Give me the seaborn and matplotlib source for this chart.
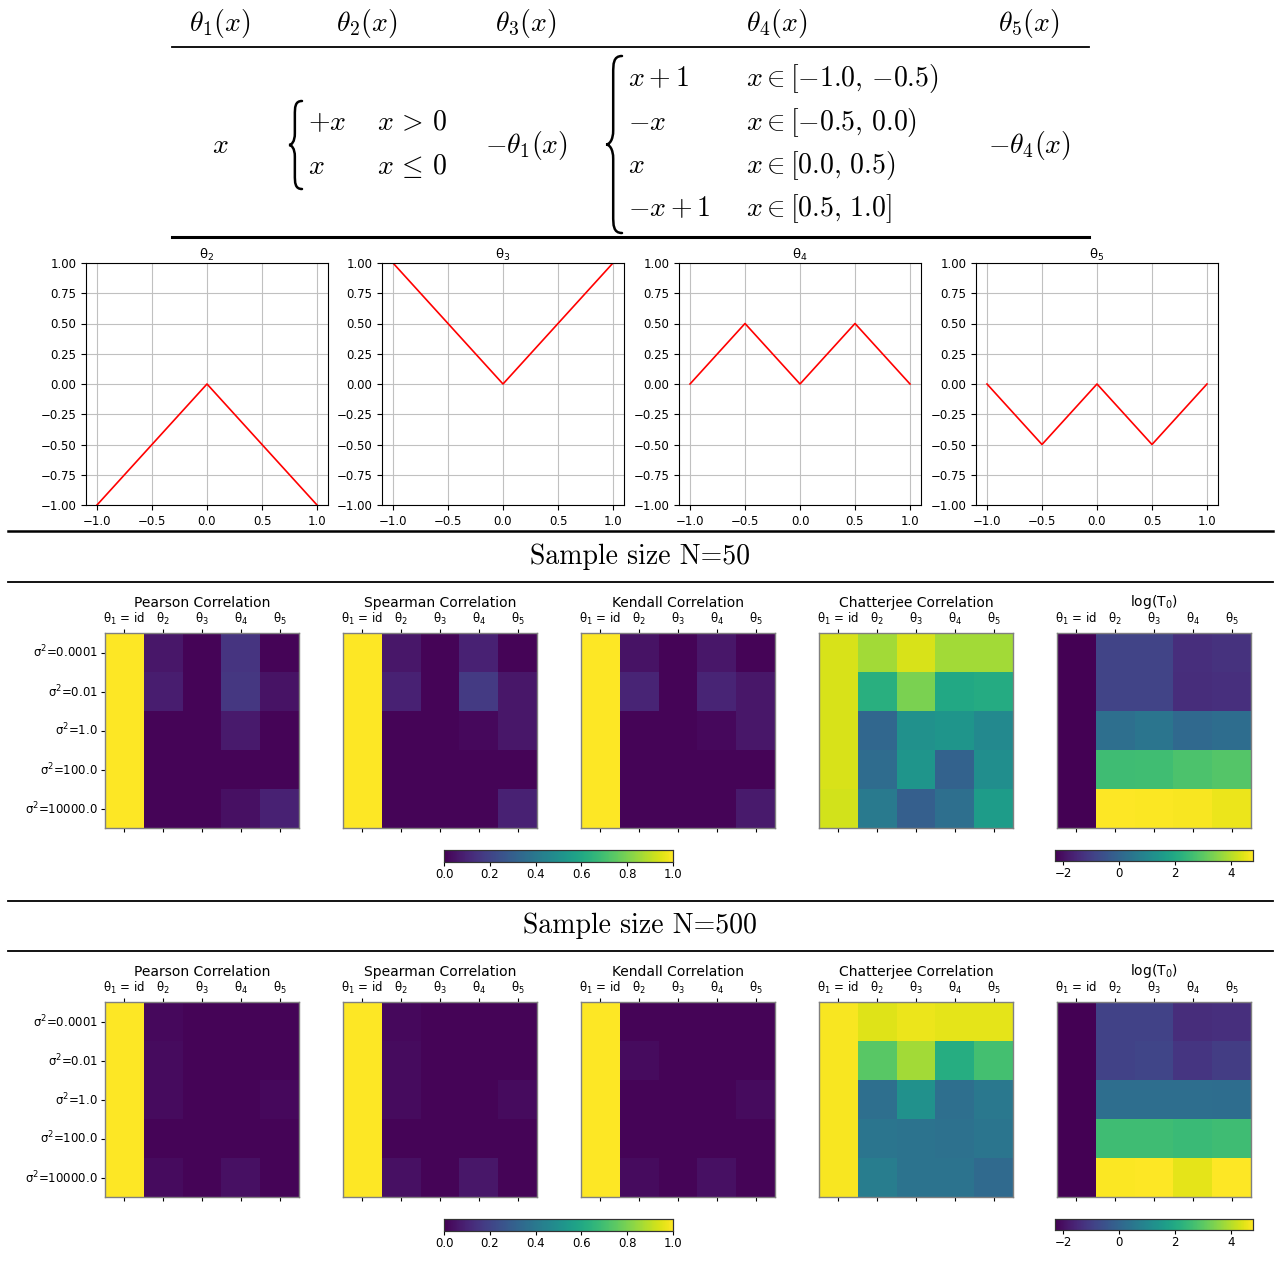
import matplotlib
matplotlib.use("Agg")
import matplotlib.pyplot as plt
import numpy as np
import pandas as pd
import seaborn as sns
from matplotlib.path import Path
from matplotlib.patches import PathPatch

W, H = 1281, 1268

# test functions sampled at their kinks
x_grid = [-1.0, -0.5, 0.0, 0.5, 1.0]
theta2_vals = [-1.0, -0.5, 0.0, -0.5, -1.0]
theta3_vals = [1.0, 0.5, 0.0, 0.5, 1.0]
theta4_vals = [0.0, 0.5, 0.0, 0.5, 0.0]
theta5_vals = [0.0, -0.5, 0.0, -0.5, 0.0]
line_titles = ["θ$_2$", "θ$_3$", "θ$_4$", "θ$_5$"]

func_labels = ["θ$_1$ = id", "θ$_2$", "θ$_3$", "θ$_4$", "θ$_5$"]
sigma_labels = ["σ$^2$=0.0001", "σ$^2$=0.01", "σ$^2$=1.0",
                "σ$^2$=100.0", "σ$^2$=10000.0"]
panel_titles = ["Pearson Correlation", "Spearman Correlation", "Kendall Correlation",
                "Chatterjee Correlation", "log(T$_0$)"]

# N = 50 (rows: sigma^2, cols: theta_1..theta_5)
pearson_50 = [[1.0, 0.06, 0.01, 0.15, 0.01],
              [1.0, 0.08, 0.01, 0.16, 0.05],
              [1.0, 0.01, 0.01, 0.07, 0.01],
              [1.0, 0.01, 0.01, 0.01, 0.01],
              [1.0, 0.01, 0.01, 0.04, 0.09]]
spearman_50 = [[1.0, 0.06, 0.01, 0.09, 0.01],
               [1.0, 0.09, 0.01, 0.17, 0.06],
               [1.0, 0.01, 0.01, 0.02, 0.06],
               [1.0, 0.01, 0.01, 0.01, 0.01],
               [1.0, 0.01, 0.01, 0.01, 0.09]]
kendall_50 = [[1.0, 0.05, 0.01, 0.06, 0.01],
              [1.0, 0.10, 0.01, 0.10, 0.06],
              [1.0, 0.01, 0.01, 0.02, 0.06],
              [1.0, 0.01, 0.01, 0.01, 0.01],
              [1.0, 0.01, 0.01, 0.01, 0.07]]
chatterjee_50 = [[0.94, 0.86, 0.94, 0.86, 0.86],
                 [0.94, 0.63, 0.80, 0.60, 0.61],
                 [0.94, 0.33, 0.50, 0.52, 0.47],
                 [0.94, 0.35, 0.52, 0.31, 0.49],
                 [0.93, 0.41, 0.30, 0.36, 0.55]]
logt0_50 = [[-2.3, -0.88, -0.88, -1.37, -1.30],
            [-2.3, -0.88, -0.88, -1.40, -1.35],
            [-2.3, 0.26, 0.45, 0.10, 0.20],
            [-2.3, 2.60, 2.62, 2.78, 2.90],
            [-2.3, 4.80, 4.75, 4.72, 4.60]]

# N = 500
pearson_500 = [[1.0, 0.02, 0.01, 0.01, 0.01],
               [1.0, 0.03, 0.01, 0.01, 0.01],
               [1.0, 0.03, 0.01, 0.01, 0.02],
               [1.0, 0.01, 0.01, 0.01, 0.01],
               [1.0, 0.03, 0.01, 0.04, 0.01]]
spearman_500 = [[1.0, 0.02, 0.01, 0.01, 0.01],
                [1.0, 0.03, 0.01, 0.01, 0.01],
                [1.0, 0.03, 0.01, 0.01, 0.03],
                [1.0, 0.01, 0.01, 0.01, 0.01],
                [1.0, 0.04, 0.01, 0.06, 0.01]]
kendall_500 = [[1.0, 0.01, 0.01, 0.01, 0.01],
               [1.0, 0.03, 0.01, 0.01, 0.01],
               [1.0, 0.01, 0.01, 0.01, 0.03],
               [1.0, 0.01, 0.01, 0.01, 0.01],
               [1.0, 0.03, 0.01, 0.04, 0.01]]
chatterjee_500 = [[0.99, 0.95, 0.97, 0.96, 0.96],
                  [0.99, 0.74, 0.86, 0.62, 0.70],
                  [0.99, 0.36, 0.50, 0.36, 0.40],
                  [0.99, 0.39, 0.38, 0.37, 0.39],
                  [0.99, 0.42, 0.38, 0.38, 0.34]]
logt0_500 = [[-2.3, -0.90, -0.90, -1.40, -1.35],
             [-2.3, -0.90, -0.85, -1.20, -1.05],
             [-2.3, 0.25, 0.25, 0.25, 0.20],
             [-2.3, 2.60, 2.60, 2.50, 2.60],
             [-2.3, 4.75, 4.80, 4.50, 4.80]]

LOG_MIN, LOG_MAX = -2.3, 4.8

fig = plt.figure(figsize=(W / 100, H / 100), dpi=100)


def px_axes(left, top, right, bottom):
    # axes placed with pixel coordinates measured from the top-left corner
    return fig.add_axes([left / W, 1 - bottom / H, (right - left) / W, (bottom - top) / H])


def brace(ax, x, y0, y1, w, lw=1.8):
    ym = (y0 + y1) / 2
    xs = x + w * 0.45
    verts = [(x + w, y0), (xs, y0), (xs, y0 + w * 0.5), (xs, y0 + w * 1.1),
             (xs, ym - w * 0.9),
             (xs, ym - w * 0.25), (x + w * 0.2, ym), (x, ym),
             (x + w * 0.2, ym), (xs, ym + w * 0.25), (xs, ym + w * 0.9),
             (xs, y1 - w * 1.1),
             (xs, y1 - w * 0.5), (xs, y1), (x + w, y1)]
    codes = [Path.MOVETO, Path.CURVE4, Path.CURVE4, Path.CURVE4,
             Path.LINETO,
             Path.CURVE4, Path.CURVE4, Path.CURVE4,
             Path.CURVE4, Path.CURVE4, Path.CURVE4,
             Path.LINETO,
             Path.CURVE4, Path.CURVE4, Path.CURVE4]
    ax.add_patch(PathPatch(Path(verts, codes), fill=False, lw=lw, color="black",
                           capstyle="round"))


# ---- line plots of the test functions ----
line_lefts = [86, 382, 679, 976]
for left, ys, title in zip(line_lefts, [theta2_vals, theta3_vals, theta4_vals, theta5_vals], line_titles):
    ax = px_axes(left, 263, left + 242, 505)
    sns.lineplot(x=x_grid, y=ys, ax=ax, color="red", linewidth=1.2)
    ax.set_ylim(-1, 1)
    ax.set_xticks([-1.0, -0.5, 0.0, 0.5, 1.0])
    ax.set_yticks([-1.0, -0.75, -0.5, -0.25, 0.0, 0.25, 0.5, 0.75, 1.0])
    ax.grid(True, color="#c0c0c0", linewidth=0.8)
    ax.tick_params(labelsize=8.5)
    ax.set_title(title, fontsize=9.5, pad=3)

# ---- heatmaps ----
heat_lefts = [105, 343, 581, 819, 1057]
sections = [
    (633, 828, [pearson_50, spearman_50, kendall_50, chatterjee_50, logt0_50], 850),
    (1002, 1197, [pearson_500, spearman_500, kendall_500, chatterjee_500, logt0_500], 1219),
]
for top, bottom, mats, cb_top in sections:
    cax_corr = px_axes(444, cb_top, 673, cb_top + 12)
    cax_log = px_axes(1055, cb_top, 1253, cb_top + 11)
    for k, (left, mat, title) in enumerate(zip(heat_lefts, mats, panel_titles)):
        ax = px_axes(left, top, left + 194, bottom)
        df = pd.DataFrame(mat, index=sigma_labels, columns=func_labels)
        if k == 4:
            sns.heatmap(df, ax=ax, cmap="viridis", vmin=LOG_MIN, vmax=LOG_MAX,
                        cbar=True, cbar_ax=cax_log, cbar_kws={"orientation": "horizontal"})
        else:
            sns.heatmap(df, ax=ax, cmap="viridis", vmin=0, vmax=1,
                        cbar=(k == 1), cbar_ax=cax_corr if k == 1 else None,
                        cbar_kws={"orientation": "horizontal"})
        ax.xaxis.tick_top()
        ax.tick_params(axis="x", top=True, bottom=True, labeltop=True,
                       labelbottom=False, labelsize=8.5, pad=1, length=3)
        ax.set_xticks(np.arange(5) + 0.5)
        ax.set_xticklabels(func_labels, rotation=0)
        if k == 0:
            ax.set_yticks(np.arange(5) + 0.5)
            ax.set_yticklabels(sigma_labels, rotation=0, fontsize=8.5)
            ax.tick_params(axis="y", length=3, pad=2)
        else:
            ax.set_yticks([])
        ax.set_xlabel("")
        ax.set_ylabel("")
        for s in ax.spines.values():
            s.set_visible(True)
            s.set_edgecolor("0.5")
            s.set_linewidth(1.0)
        ax.set_title(title, fontsize=10, pad=3)
    for cax, ticks, labels in [(cax_corr, [0, 0.2, 0.4, 0.6, 0.8, 1.0],
                                ["0.0", "0.2", "0.4", "0.6", "0.8", "1.0"]),
                               (cax_log, [-2, 0, 2, 4], ["\u22122", "0", "2", "4"])]:
        cax.set_xticks(ticks)
        cax.set_xticklabels(labels)
        cax.tick_params(labelsize=8.5, length=3, pad=1.5)
        for s in cax.spines.values():
            s.set_visible(True)
            s.set_edgecolor("0.2")
            s.set_linewidth(0.8)

# ---- overlay: function table, section titles, rules ----
ov = fig.add_axes([0, 0, 1, 1])
ov.set_xlim(0, W)
ov.set_ylim(H, 0)
ov.axis("off")
ov.patch.set_alpha(0)

tk = dict(math_fontfamily="cm", fontsize=20, color="black")
header_x = [220, 367, 526, 777, 1029]
header_txt = [r"$\theta_1(x)$", r"$\theta_2(x)$", r"$\theta_3(x)$", r"$\theta_4(x)$", r"$\theta_5(x)$"]
for hx, ht in zip(header_x, header_txt):
    ov.text(hx, 24, ht, ha="center", va="center", **tk)
ov.plot([172, 1089], [47, 47], color="black", lw=1.3)
ov.plot([172, 1089], [237, 237], color="black", lw=2.2)

ov.text(220, 145, r"$x$", ha="center", va="center", **tk)
brace(ov, 289, 101, 189, w=13)
theta2_rows = [(r"$+x$", r"$x\,>\,0$"), (r"$x$", r"$x\,\leq\,0$")]
for (a, b), yb in zip(theta2_rows, [130, 174]):
    ov.text(308, yb, a, ha="left", va="baseline", **tk)
    ov.text(377, yb, b, ha="left", va="baseline", **tk)
ov.text(526, 145, r"$-\theta_1(x)$", ha="center", va="center", **tk)
brace(ov, 606, 56, 233, w=16)
theta4_rows = [(r"$x+1$", r"$x \in [-1.0,\,{-0.5})$"), (r"$-x$", r"$x \in [-0.5,\,0.0)$"),
               (r"$x$", r"$x \in [0.0,\,0.5)$"), (r"$-x+1$", r"$x \in [0.5,\,1.0]$")]
for (a, b), yb in zip(theta4_rows, [86, 130, 173, 216]):
    ov.text(628, yb, a, ha="left", va="baseline", **tk)
    ov.text(746, yb, b, ha="left", va="baseline", **tk)
ov.text(1029, 145, r"$-\theta_4(x)$", ha="center", va="center", **tk)

for y, lw in [(531, 1.8), (582, 1.3), (901, 1.3), (951, 1.3)]:
    ov.plot([8, 1273], [y, y], color="black", lw=lw)
sk = dict(fontfamily="cmr10", fontsize=20, color="black", ha="center", va="center")
ov.text(640, 557, "Sample size N=50", **sk)
ov.text(640, 926, "Sample size N=500", **sk)

fig.savefig("out.png", dpi=100)
